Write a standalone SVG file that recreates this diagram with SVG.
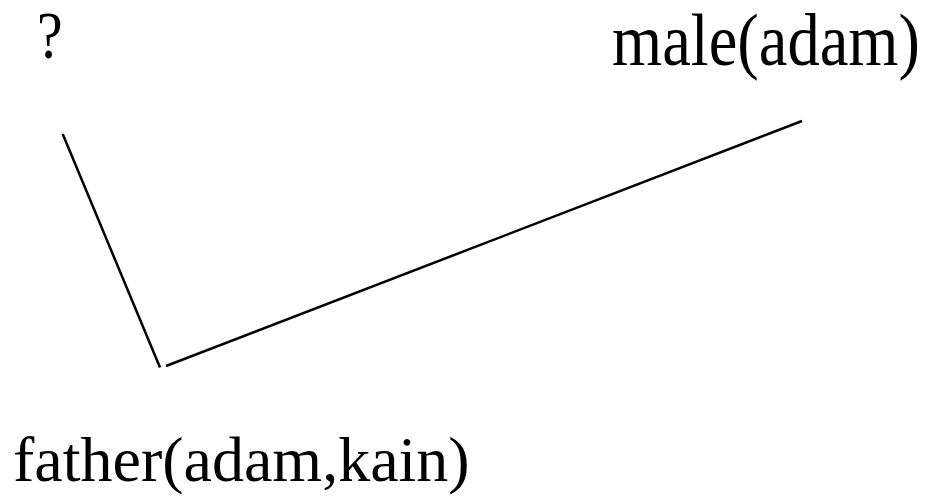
<svg xmlns="http://www.w3.org/2000/svg" width="931" height="497" viewBox="0 0 931 497">
<style>
text{font-family:"Liberation Serif","Times New Roman",serif;fill:#000}
.e{stroke:#000;stroke-width:2.5;fill:none}
</style>
<rect width="931" height="497" fill="#fff"/>
<g id="node-query"><text transform="translate(37,58) scale(0.85,1)" font-size="68">?</text></g>
<g id="node-male"><text transform="translate(612,65) scale(0.86,1)" font-size="75">male(adam)</text></g>
<g id="node-father"><text x="13" y="481" font-size="64">father(adam,kain)</text></g>
<g id="connectors">
<line class="e" x1="62.7" y1="134" x2="160" y2="367.5"/>
<line class="e" x1="166" y1="366" x2="802" y2="121"/>
</g>
</svg>
